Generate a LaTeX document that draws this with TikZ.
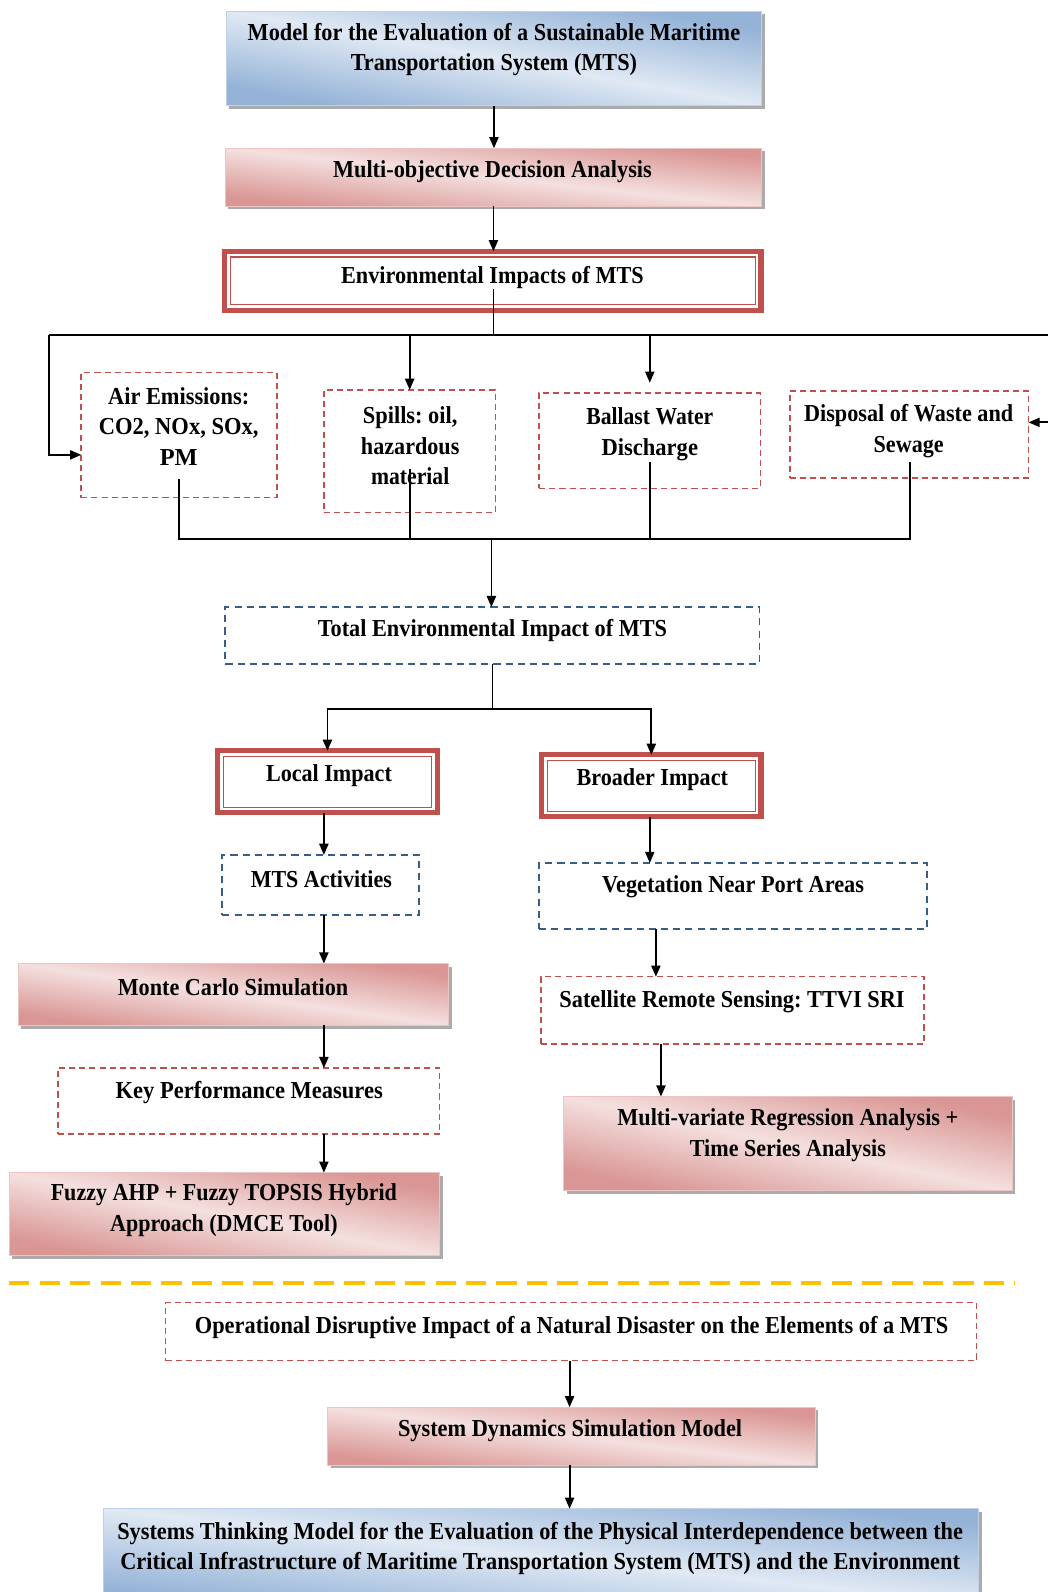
\documentclass[tikz,border=0pt]{standalone}
\usepackage{fontspec}
\setmainfont{Liberation Serif}
\usepackage{graphicx}
\usetikzlibrary{arrows.meta,shadows,calc}

\definecolor{plight}{HTML}{F4E0DF}
\definecolor{pdark}{HTML}{D99694}
\definecolor{blight}{HTML}{E0E9F4}
\definecolor{bdark}{HTML}{95B3D7}
\definecolor{rline}{HTML}{C0504D}
\definecolor{bline}{HTML}{385D8A}
\definecolor{sepgold}{HTML}{FFC000}

% two-tone gradients: dark towards two opposite corners, light across the middle
\pgfdeclarehorizontalshading{pinkdiag}{100bp}{color(0bp)=(pdark); color(27bp)=(pdark); color(50bp)=(plight); color(73bp)=(pdark); color(100bp)=(pdark)}
\pgfdeclarehorizontalshading{bluediag}{100bp}{color(0bp)=(bdark); color(27bp)=(bdark); color(50bp)=(blight); color(73bp)=(bdark); color(100bp)=(bdark)}

% one line of label text, set to a given width
\newcommand\fw[2]{\resizebox{#1pt}{\height}{#2}}

\tikzset{
  box/.style={rectangle, inner sep=0pt, outer sep=0pt},
  boxshadow/.style={drop shadow={shadow xshift=3pt, shadow yshift=-3pt, fill=black!55, opacity=0.6}},
  pinkbox/.style={box, boxshadow, shading=pinkdiag, shading angle=#1, draw=pdark!55!white, line width=1pt},
  bluebox/.style={box, boxshadow, shading=bluediag, shading angle=#1, draw=bdark!60!white, line width=1pt},
  reddash/.style={box, draw=rline, line width=1.5pt, dash pattern=on 6pt off 4pt},
  bluedash/.style={box, draw=bline, line width=1.8pt, dash pattern=on 7pt off 5pt},
  dblbox/.style={box, draw=rline, line width=5pt, fill=white,
    path picture={\draw[rline, line width=1.3pt]
      ([shift={(5.5pt,5.5pt)}]path picture bounding box.south west) rectangle
      ([shift={(-5.5pt,-5.5pt)}]path picture bounding box.north east);}},
  lbl/.style={font=\fontsize{24}{30}\selectfont\bfseries\frenchspacing, align=center, inner sep=0pt, yshift=-2pt},
  link/.style={draw=black, line width=1.8pt},
  arr/.style={link, -{Triangle[length=11pt,width=9pt]}},
  sepline/.style={draw=sepgold, line width=4pt, dash pattern=on 20pt off 10pt},
}

\begin{document}
\begin{tikzpicture}[x=1pt, y=-1pt]
\useasboundingbox (0,0) rectangle (1032,1568);
\fill[white] (0,0) rectangle (1032,1568);

% ---- top chain ----
\node[bluebox=80, minimum width=527pt, minimum height=93pt] (top) at (486.5,57.5) {};
\node[lbl] (topt) at (486.5,47) {\fw{485}{Model for the Evaluation of a Sustainable Maritime}\\ \fw{282}{Transportation System (MTS)}};

\node[pinkbox=83.8, minimum width=528pt, minimum height=57pt] (mo) at (486,174.5) {};
\node[lbl] (mot) at (485,167) {\fw{314}{Multi-objective Decision Analysis}};

\node[dblbox, minimum width=528pt, minimum height=58pt] (env) at (485.5,276.5) {};
\node[lbl] (envt) at (485,271) {\fw{298}{Environmental Impacts of MTS}};

% ---- environmental impact categories ----
\node[reddash, minimum width=193pt, minimum height=123pt] (air) at (176.5,428.5) {};
\node[lbl] (airt) at (176,418) {\fw{139}{Air Emissions:}\\ \fw{157}{CO2, NOx, SOx,}\\ PM};

\node[reddash, minimum width=169pt, minimum height=121pt] (spills) at (403.5,444.5) {};
\node[lbl] (spillst) at (404,437) {\fw{93}{Spills: oil,}\\ \fw{97}{hazardous}\\ \fw{77}{material}};

\node[reddash, minimum width=218pt, minimum height=94pt] (ballast) at (640,434) {};
\node[lbl] (ballastt) at (640,425.5) {\fw{125}{Ballast Water}\\ \fw{95}{Discharge}};

\node[reddash, minimum width=235pt, minimum height=86pt] (disp) at (895.5,428) {};
\node[lbl] (dispt) at (895,422.5) {\fw{206}{Disposal of Waste and}\\ \fw{69}{Sewage}};

\node[bluedash, minimum width=526pt, minimum height=56pt] (total) at (485,626) {};
\node[lbl] (totalt) at (485,619) {\fw{344}{Total Environmental Impact of MTS}};

% ---- local branch ----
\node[dblbox, minimum width=216pt, minimum height=61pt] (local) at (322.5,770) {};
\node[lbl] (localt) at (324,762) {\fw{124}{Local Impact}};

\node[bluedash, minimum width=194pt, minimum height=59pt] (mts) at (316,871.5) {};
\node[lbl] (mtst) at (316.5,864) {\fw{139}{MTS Activities}};

\node[pinkbox=81.8, minimum width=424pt, minimum height=61pt] (mc) at (230,979.5) {};
\node[lbl] (mct) at (229.5,970) {\fw{227}{Monte Carlo Simulation}};

\node[reddash, minimum width=376pt, minimum height=65pt] (kpm) at (245,1084.5) {};
\node[lbl] (kpmt) at (245.5,1074) {\fw{263}{Key Performance Measures}};

\node[pinkbox=79.1, minimum width=424pt, minimum height=82pt] (fuzzy) at (221,1196) {};
\node[lbl] (fuzzyt) at (220.5,1190) {\fw{341}{Fuzzy AHP + Fuzzy TOPSIS Hybrid}\\ \fw{224}{Approach (DMCE Tool)}};

% ---- broader branch ----
\node[dblbox, minimum width=216pt, minimum height=61pt] (broader) at (641.5,774) {};
\node[lbl] (broadert) at (642.5,766) {\fw{149}{Broader Impact}};

\node[bluedash, minimum width=382pt, minimum height=65pt] (veg) at (722,882.5) {};
\node[lbl] (vegt) at (722,871) {\fw{258}{Vegetation Near Port Areas}};

\node[reddash, minimum width=377pt, minimum height=66pt] (sat) at (721.5,995) {};
\node[lbl] (satt) at (721,985) {\fw{340}{Satellite Remote Sensing: TTVI SRI}};

\node[pinkbox=78.1, minimum width=442pt, minimum height=93pt] (mv) at (776,1126.5) {};
\node[lbl] (mvt) at (776,1116) {\fw{336}{Multi-variate Regression Analysis +}\\ \fw{193}{Time Series Analysis}};

% ---- separator and disruption chain ----
\coordinate (sepL) at (9,1264);
\coordinate (sepR) at (1000,1264);
\draw[sepline] (sepL) -- (sepR);

\node[reddash, minimum width=799pt, minimum height=57pt] (op) at (562.5,1311.5) {};
\node[lbl] (opt) at (563,1305) {\fw{742}{Operational Disruptive Impact of a Natural Disaster on the Elements of a MTS}};

\node[pinkbox=83.2, minimum width=480pt, minimum height=57pt] (sd) at (563,1414.5) {};
\node[lbl] (sdt) at (561.5,1407) {\fw{339}{System Dynamics Simulation Model}};

\node[bluebox=83.8, minimum width=862pt, minimum height=94pt] (st) at (533,1533) {};
\node[lbl] (stt) at (532,1523) {\fw{833}{Systems Thinking Model for the Evaluation of the Physical Interdependence between the}\\ \fw{827}{Critical Infrastructure of Maritime Transportation System (MTS) and the Environment}};

% ---- connectors ----
\draw[arr] (top.south) -- (top.south |- mo.north);
\draw[arr] (mo.south) -- (mo.south |- env.north);

\coordinate (envOut) at (486,285);
\coordinate (hub) at (486,330);
\coordinate (busL) at (48,330);
\coordinate (busR) at (1032,330);
\coordinate (airIn) at ($(air.west)+(0,19.5)$);
\coordinate (dispIn) at (1032,416);
\draw[link] (envOut) -- (hub);
\draw[link] (busL) -- (busR);
\draw[arr] (busL) |- (airIn);
\draw[arr] (spills.north |- hub) -- (spills.north);
\draw[arr] (ballast.north |- hub) -- ([yshift=10pt]ballast.north);
\draw[arr] (dispIn) -- (dispIn -| disp.east);

\coordinate (airOut) at (176,472);
\coordinate (spillOut) at (404,462);
\coordinate (ballOut) at (640,455);
\coordinate (dispOut) at (896,455);
\coordinate (busB) at (484,531);
\draw[link] (airOut) |- (busB);
\draw[link] (spillOut) -- (spillOut |- busB);
\draw[link] (ballOut) -- (ballOut |- busB);
\draw[link] (dispOut) |- (busB);
\draw[arr] (busB) -- (busB |- total.north);

\coordinate (split) at (485,698);
\draw[link] (total.south) -- (split);
\draw[arr] (split) -| (local.north);
\draw[arr] (split) -| (broader.north);

\coordinate (colL) at (319,0);
\draw[arr] (colL |- local.south) -- (colL |- mts.north);
\draw[arr] (colL |- mts.south) -- (colL |- mc.north);
\draw[arr] (colL |- mc.south) -- (colL |- kpm.north);
\draw[arr] (colL |- kpm.south) -- (colL |- fuzzy.north);

\coordinate (colR) at (640,0);
\coordinate (colR2) at (646,0);
\coordinate (colR3) at (651,0);
\draw[arr] (colR |- broader.south) -- (colR |- veg.north);
\draw[arr] (colR2 |- veg.south) -- (colR2 |- sat.north);
\draw[arr] (colR3 |- sat.south) -- (colR3 |- mv.north);

\coordinate (colD) at (561,0);
\draw[arr] (colD |- op.south) -- (colD |- sd.north);
\draw[arr] (colD |- sd.south) -- (colD |- st.north);
\end{tikzpicture}
\end{document}
